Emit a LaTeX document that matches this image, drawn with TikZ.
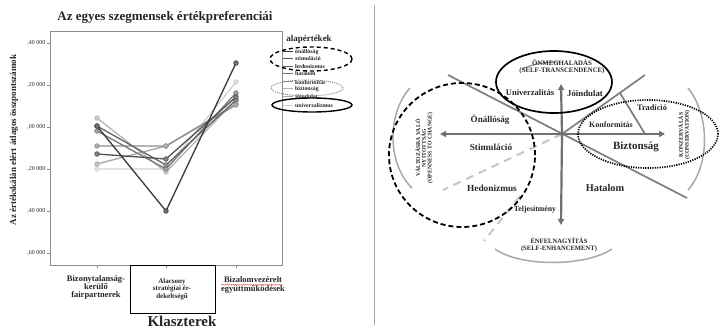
\documentclass[tikz,border=0pt]{standalone}
\usepackage{fontspec}
\setmainfont{Liberation Serif}
\usetikzlibrary{arrows.meta,decorations.pathmorphing}
\definecolor{ink}{HTML}{262626}
\definecolor{framegray}{HTML}{8C8C8C}
\definecolor{axgray}{HTML}{707070}
\definecolor{diaggray}{HTML}{7E7E7E}
\definecolor{arcgray}{HTML}{A8A8A8}
\definecolor{dashgray}{HTML}{C6C6C6}
\definecolor{sA}{HTML}{3A3A3A}
\definecolor{sB}{HTML}{505050}
\definecolor{sC}{HTML}{7A7A7A}
\definecolor{sD}{HTML}{B4B4B4}
\definecolor{sE}{HTML}{8E8E8E}
\definecolor{sF}{HTML}{A6A6A6}
\definecolor{sG}{HTML}{D2D2D2}
\definecolor{sH}{HTML}{666666}
\newcommand{\sz}[1]{\fontsize{#1}{#1}\selectfont}
\begin{document}
\begin{tikzpicture}[x=1pt,y=-1pt,
  txt/.style={text=ink, inner sep=0pt},
  bt/.style={txt, font=\bfseries\sz{#1}},
  series/.style={line width=1.3pt},
  axisarrow/.style={axgray, line width=2.2pt, -{Triangle[length=6pt,width=6pt]}},
  diag/.style={diaggray, line width=1.7pt},
  bracket/.style={arcgray, line width=1.5pt},
  lightdash/.style={dashgray, line width=2pt, dash pattern=on 8pt off 6pt},
  blackdash/.style={black, line width=1.8pt, dash pattern=on 5pt off 3pt},
  blackdot/.style={black, line width=1.7pt, dash pattern=on 1.2pt off 1.2pt},
  tick/.style={framegray, line width=0.8pt}]
\useasboundingbox (0,0) rectangle (721,329);
\fill[white] (0,0) rectangle (721,329);

% ---------------- left: line chart ----------------
\node[bt=13] (title) at (165,17) {Az egyes szegmensek értékpreferenciái};
\draw[framegray, line width=1pt] (50,32) rectangle (282,265);
\node[bt=9, rotate=90] (ylabel) at (14,140) {Az értékskálán elért átlagos összpontszámok};
\foreach \yy/\lab in {43/{,40 000},85/{,20 000},127/{,00 000},169/{,20 000},211/{,40 000},253/{,60 000}} {
  \draw[tick] (46.5,\yy) -- (50,\yy);
  \node[txt, font=\sz{6}, anchor=east] at (45.5,\yy) {\lab};
}
\foreach \xx in {97,166,236} \draw[tick] (\xx,265) -- (\xx,268);

% value profiles of the eight basic values
\foreach \a/\b/\c/\col in {169/169/82/sG, 118/172/100/sD, 164/146/104/sF, 146/146/105/sE,
                           131/169/93/sC, 126/165/100/sH, 154/159/97/sB, 126/211/63/sA} {
  \draw[series,\col] (97,\a) -- (166,\b) -- (236,\c);
  \foreach \px/\py in {97/\a,166/\b,236/\c}
    \filldraw[draw=\col, fill=\col!70!white, line width=0.6pt] (\px,\py) circle (2.3pt);
}

% legend
\node[bt=9] (legtitle) at (309,39) {alapértékek};
\foreach \yy/\name/\col in {52/önállóság/sA, 59/stimuláció/sB, 67/hedonizmus/sH, 74/hatalom/sC,
                            82/konformitás/sE, 89/biztonság/sD, 97/jóindulat/sF, 106/univerzalizmus/sG} {
  \draw[\col, line width=1pt] (283,\yy) -- (293,\yy);
  \node[bt=5.8, anchor=west] at (295,\yy) {\name};
}
\draw[black, line width=1.4pt, dash pattern=on 4pt off 3pt] (311,59) ellipse [x radius=41pt, y radius=12pt];
\draw[framegray, line width=1pt, dash pattern=on 1pt off 1pt] (307,88) ellipse [x radius=36pt, y radius=8pt];
\draw[black, line width=1.4pt] (312,105) ellipse [x radius=40pt, y radius=7pt];

% cluster labels
\node[bt=8.5, align=center] (c1) at (96,287) {Bizonytalanság-\\[-0.5pt]kerülő\\[-0.5pt]fairpartnerek};
\draw[black, line width=0.9pt] (130,265) rectangle (215,313);
\node[bt=7, align=center] (c2) at (172,289) {Alacsony\\[0.5pt]stratégiai ér-\\[0.5pt]dekeltségű};
\node[bt=8.5, align=center] (c3) at (253,285) {Bizalomvezérelt\\együttműködések};
\draw[red!70!white, line width=0.35pt, decorate, decoration={snake, amplitude=0.5pt, segment length=2pt}]
  (221,284.8) -- (283,284.8);
\node[bt=15] (xlabel) at (182,321) {Klaszterek};

% separator
\draw[arcgray, line width=1pt] (374,5) -- (374,325);

% ---------------- right: value circle ----------------
\coordinate (O) at (562,134);
\coordinate (W) at (440,134);
\coordinate (E) at (665,134);
\coordinate (N) at (561,84);
\coordinate (S) at (561,225);

% brackets of the four higher-order dimensions
\draw[bracket] (410,88) .. controls (386,115) and (388,165) .. (412,188);
\draw[bracket] (688,88) .. controls (710,115) and (710,165) .. (688,190);
\draw[bracket] (495,249) .. controls (520,267) and (585,267) .. (612,249);
\draw[bracket] (522,69) .. controls (535,63) and (548,62) .. (560,62);

% sector borders
\draw[diag] (448,75) -- (687,198);
\draw[diag] (645,75) -- (O);
\draw[diag] (620,93) -- (645,134);
\draw[lightdash] (O) -- (443,190);
\draw[lightdash] (520,196) -- (484,241);

% axes
\draw[axisarrow] (O) -- (W);
\draw[axisarrow] (O) -- (E);
\draw[axisarrow] (O) -- (N);
\draw[axisarrow] (O) -- (S);

% dimension rings
\draw[black, line width=1.7pt] (554,82) ellipse [x radius=58pt, y radius=31pt];
\draw[blackdash] (462,155) ellipse [x radius=73pt, y radius=72pt];
\draw[blackdot] (648,134) ellipse [x radius=70pt, y radius=34pt];

% labels
\node[bt=6.8] (selftr) at (562,63) {ÖNMEGHALADÁS};
\node[bt=6.8] (selftr2) at (562,71) {(SELF-TRANSCENDENCE)};
\node[bt=8.5] (univ) at (530,93) {Univerzalitás};
\node[bt=8.8] (joind) at (585,93) {Jóindulat};
\node[bt=9] (onall) at (490,120) {Önállóság};
\node[bt=9.3] (stim) at (491,147) {Stimuláció};
\node[bt=9.3] (hedon) at (492,188) {Hedonizmus};
\node[bt=10.3] (hatal) at (605,188) {Hatalom};
\node[bt=7.8] (teljes) at (535,210) {Teljesítmény};
\node[bt=8] (konf) at (611,125) {Konformitás};
\node[bt=11] (bizt) at (636,147) {Biztonság};
\node[bt=8.3] (trad) at (652,108) {Tradíció};
\node[bt=6.6] (enh) at (559,241) {ÉNFELNAGYÍTÁS};
\node[bt=6.6] (enh2) at (559,249) {(SELF-ENHANCEMENT)};
\node[bt=5.8, rotate=90, align=center] (open) at (424,148) {VÁLTOZÁSRA VALÓ\\NYITOTTSÁG\\(OPENNESS TO CHANGE)};
\node[bt=5.8, rotate=90, align=center] (cons) at (684,135) {KONZERVÁLÁS\\(CONSERVATION)};
\end{tikzpicture}
\end{document}
